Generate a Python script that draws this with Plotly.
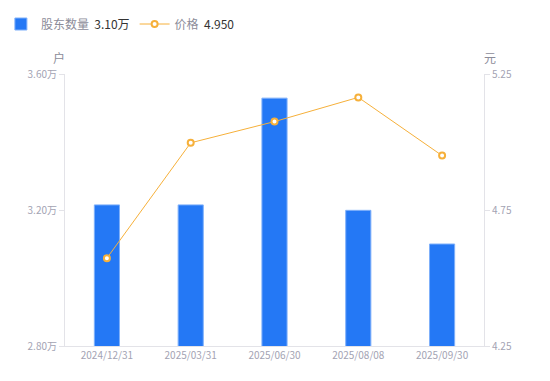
import plotly.graph_objects as go

categories = ["2024/12/31", "2025/03/31", "2025/06/30", "2025/08/08", "2025/09/30"]
holders = [3.215, 3.215, 3.529, 3.199, 3.10]   # 万户
prices = [4.573, 4.997, 5.075, 5.164, 4.950]   # 元
left_ticks = [2.80, 3.20, 3.60]
left_ticktext = ["2.80万", "3.20万", "3.60万"]
right_ticks = [4.25, 4.75, 5.25]
right_ticktext = ["4.25", "4.75", "5.25"]
holder_name = "股东数量"
price_name = "价格"
holder_latest = "3.10万"
price_latest = "4.950"

FONT = "Noto Sans CJK SC, Noto Sans, sans-serif"
BLUE = "#2478F5"
ORANGE = "#F6B03A"
AXIS = "#E3E3E8"
TICK = "#A3A3B3"

fig = go.Figure()
fig.add_trace(go.Bar(
    x=categories, y=holders, name=f"{holder_name}  <span style='color:#333333'>{holder_latest}</span>",
    marker=dict(color=BLUE, line=dict(color="#7FB0FA", width=1)),
    width=0.3, yaxis="y",
))
fig.add_trace(go.Scatter(
    x=categories, y=prices, name=f"{price_name}  <span style='color:#333333'>{price_latest}</span>",
    mode="lines+markers", yaxis="y2",
    line=dict(color=ORANGE, width=1),
    marker=dict(symbol="circle", size=6, color="white", line=dict(color=ORANGE, width=2)),
))

fig.update_layout(
    width=550, height=381,
    margin=dict(l=57, r=74, t=66, b=43, autoexpand=False),
    paper_bgcolor="white", plot_bgcolor="white",
    font=dict(family=FONT, size=12, color="#8C8C99"),
    showlegend=True,
    legend=dict(orientation="h", x=-0.153, xanchor="left", y=0.958, yanchor="middle",
                xref="paper", yref="container",
                font=dict(size=12, color="#8C8C99"),
                traceorder="normal", itemwidth=30),
    xaxis=dict(type="category", showgrid=False, showline=True, linecolor=AXIS, linewidth=1,
               ticks="", tickfont=dict(size=10, color=TICK), fixedrange=True, automargin=False),
    yaxis=dict(range=[2.80, 3.60], tickvals=left_ticks, ticktext=left_ticktext,
               showgrid=False, showline=True, linecolor=AXIS, linewidth=1,
               ticks="outside", ticklen=5, tickcolor=AXIS, automargin=False,
               tickfont=dict(size=10, color=TICK), zeroline=False),
    yaxis2=dict(range=[4.25, 5.25], tickvals=right_ticks, ticktext=right_ticktext,
                overlaying="y", side="right", showgrid=False, showline=True, automargin=False,
                linecolor=AXIS, linewidth=1, ticks="outside", ticklen=5, tickcolor=AXIS,
                tickfont=dict(size=10, color=TICK), zeroline=False),
    annotations=[
        dict(text="户", xref="paper", yref="paper", x=0.0, y=1.0, xshift=-6, yshift=6,
             xanchor="center", yanchor="bottom", showarrow=False,
             font=dict(size=12, color="#8C8C99")),
        dict(text="元", xref="paper", yref="paper", x=1.0, y=1.0, xshift=6, yshift=6,
             xanchor="center", yanchor="bottom", showarrow=False,
             font=dict(size=12, color="#8C8C99")),
    ],
)

fig.write_html("out.html")
